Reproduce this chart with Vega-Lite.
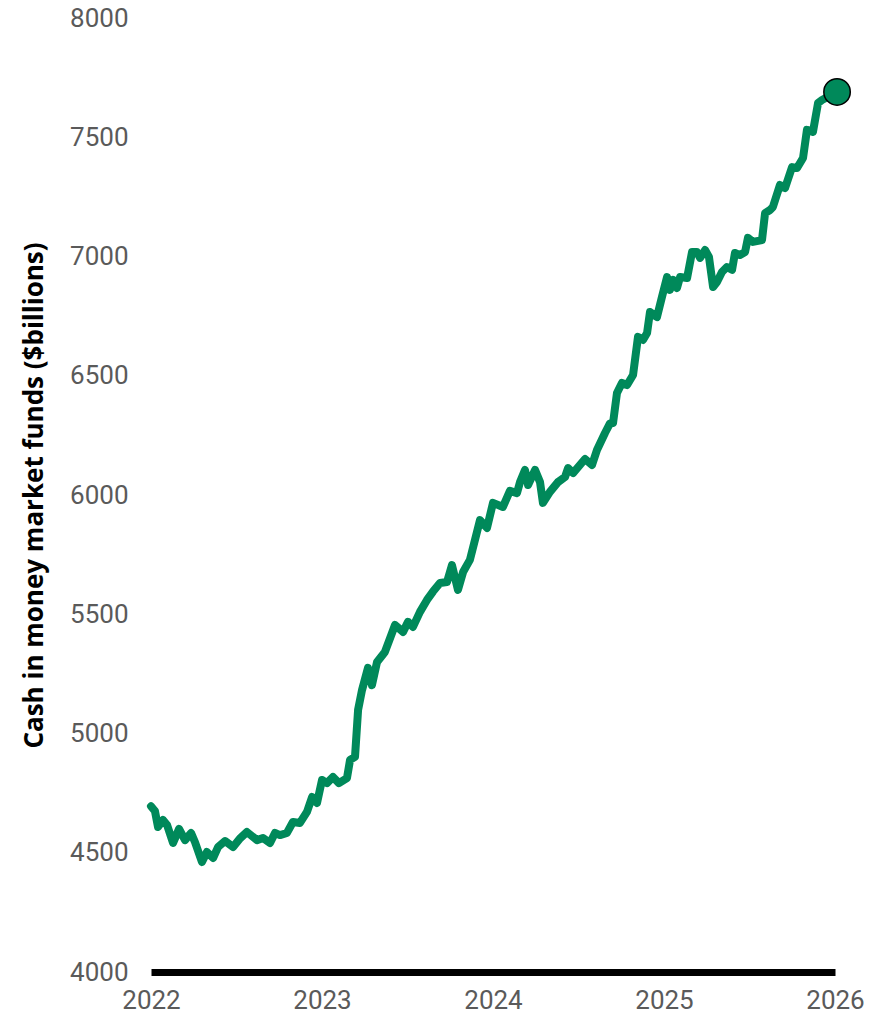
{
  "$schema": "https://vega.github.io/schema/vega-lite/v6.json",
  "autosize": "none",
  "width": 684,
  "height": 954,
  "padding": {"left": 151, "top": 18, "right": 40, "bottom": 45},
  "background": "white",
  "config": {"view": {"stroke": null}, "font": "Roboto"},
  "data": {"values": [
    {"year": 2022.000, "cash": 4695},
    {"year": 2022.023, "cash": 4675},
    {"year": 2022.041, "cash": 4608},
    {"year": 2022.070, "cash": 4637},
    {"year": 2022.094, "cash": 4616},
    {"year": 2022.129, "cash": 4541},
    {"year": 2022.164, "cash": 4600},
    {"year": 2022.199, "cash": 4553},
    {"year": 2022.234, "cash": 4583},
    {"year": 2022.257, "cash": 4545},
    {"year": 2022.298, "cash": 4461},
    {"year": 2022.327, "cash": 4503},
    {"year": 2022.363, "cash": 4478},
    {"year": 2022.392, "cash": 4524},
    {"year": 2022.433, "cash": 4549},
    {"year": 2022.480, "cash": 4524},
    {"year": 2022.520, "cash": 4560},
    {"year": 2022.561, "cash": 4587},
    {"year": 2022.620, "cash": 4553},
    {"year": 2022.655, "cash": 4562},
    {"year": 2022.696, "cash": 4541},
    {"year": 2022.725, "cash": 4583},
    {"year": 2022.754, "cash": 4574},
    {"year": 2022.795, "cash": 4583},
    {"year": 2022.830, "cash": 4629},
    {"year": 2022.871, "cash": 4625},
    {"year": 2022.912, "cash": 4671},
    {"year": 2022.942, "cash": 4734},
    {"year": 2022.971, "cash": 4709},
    {"year": 2023.000, "cash": 4805},
    {"year": 2023.029, "cash": 4792},
    {"year": 2023.064, "cash": 4818},
    {"year": 2023.099, "cash": 4792},
    {"year": 2023.146, "cash": 4813},
    {"year": 2023.164, "cash": 4889},
    {"year": 2023.193, "cash": 4902},
    {"year": 2023.211, "cash": 5099},
    {"year": 2023.234, "cash": 5182},
    {"year": 2023.269, "cash": 5275},
    {"year": 2023.292, "cash": 5203},
    {"year": 2023.322, "cash": 5300},
    {"year": 2023.368, "cash": 5342},
    {"year": 2023.427, "cash": 5455},
    {"year": 2023.474, "cash": 5426},
    {"year": 2023.503, "cash": 5468},
    {"year": 2023.532, "cash": 5447},
    {"year": 2023.573, "cash": 5510},
    {"year": 2023.614, "cash": 5560},
    {"year": 2023.649, "cash": 5595},
    {"year": 2023.690, "cash": 5631},
    {"year": 2023.731, "cash": 5635},
    {"year": 2023.760, "cash": 5706},
    {"year": 2023.795, "cash": 5602},
    {"year": 2023.825, "cash": 5677},
    {"year": 2023.865, "cash": 5728},
    {"year": 2023.924, "cash": 5895},
    {"year": 2023.965, "cash": 5862},
    {"year": 2024.000, "cash": 5967},
    {"year": 2024.058, "cash": 5950},
    {"year": 2024.099, "cash": 6017},
    {"year": 2024.140, "cash": 6008},
    {"year": 2024.158, "cash": 6054},
    {"year": 2024.187, "cash": 6105},
    {"year": 2024.205, "cash": 6042},
    {"year": 2024.246, "cash": 6105},
    {"year": 2024.275, "cash": 6054},
    {"year": 2024.292, "cash": 5967},
    {"year": 2024.333, "cash": 6013},
    {"year": 2024.380, "cash": 6054},
    {"year": 2024.421, "cash": 6075},
    {"year": 2024.439, "cash": 6113},
    {"year": 2024.468, "cash": 6092},
    {"year": 2024.538, "cash": 6151},
    {"year": 2024.579, "cash": 6126},
    {"year": 2024.608, "cash": 6189},
    {"year": 2024.655, "cash": 6260},
    {"year": 2024.684, "cash": 6300},
    {"year": 2024.702, "cash": 6302},
    {"year": 2024.725, "cash": 6428},
    {"year": 2024.754, "cash": 6470},
    {"year": 2024.784, "cash": 6461},
    {"year": 2024.819, "cash": 6503},
    {"year": 2024.848, "cash": 6663},
    {"year": 2024.877, "cash": 6650},
    {"year": 2024.901, "cash": 6679},
    {"year": 2024.918, "cash": 6767},
    {"year": 2024.959, "cash": 6746},
    {"year": 2024.988, "cash": 6830},
    {"year": 2025.018, "cash": 6914},
    {"year": 2025.035, "cash": 6860},
    {"year": 2025.053, "cash": 6902},
    {"year": 2025.076, "cash": 6868},
    {"year": 2025.094, "cash": 6914},
    {"year": 2025.135, "cash": 6910},
    {"year": 2025.164, "cash": 7019},
    {"year": 2025.193, "cash": 7019},
    {"year": 2025.211, "cash": 6994},
    {"year": 2025.240, "cash": 7027},
    {"year": 2025.263, "cash": 6998},
    {"year": 2025.287, "cash": 6872},
    {"year": 2025.310, "cash": 6893},
    {"year": 2025.339, "cash": 6935},
    {"year": 2025.368, "cash": 6956},
    {"year": 2025.398, "cash": 6944},
    {"year": 2025.415, "cash": 7015},
    {"year": 2025.444, "cash": 7006},
    {"year": 2025.474, "cash": 7019},
    {"year": 2025.491, "cash": 7078},
    {"year": 2025.520, "cash": 7061},
    {"year": 2025.573, "cash": 7069},
    {"year": 2025.591, "cash": 7182},
    {"year": 2025.620, "cash": 7195},
    {"year": 2025.637, "cash": 7208},
    {"year": 2025.678, "cash": 7300},
    {"year": 2025.708, "cash": 7287},
    {"year": 2025.749, "cash": 7375},
    {"year": 2025.778, "cash": 7371},
    {"year": 2025.813, "cash": 7413},
    {"year": 2025.836, "cash": 7531},
    {"year": 2025.871, "cash": 7522},
    {"year": 2025.901, "cash": 7644},
    {"year": 2025.924, "cash": 7656},
    {"year": 2026.012, "cash": 7690}
  ]},
  "encoding": {
    "x": {
      "field": "year", "type": "quantitative",
      "scale": {"domain": [2022, 2026], "nice": false, "zero": false},
      "axis": {
        "title": null, "values": [2022, 2023, 2024, 2025, 2026], "format": "d",
        "grid": false, "ticks": false, "domain": true, "domainColor": "black", "domainWidth": 7,
        "labelFont": "Roboto", "labelFontSize": 26, "labelColor": "#5a5a5a", "labelPadding": 15,
        "labelFlush": false
      }
    },
    "y": {
      "field": "cash", "type": "quantitative",
      "scale": {"domain": [4000, 8000], "nice": false, "zero": false},
      "axis": {
        "title": "Cash in money market funds ($billions)",
        "titleFont": "Open Sans", "titleFontSize": 26, "titleFontWeight": "bold", "titleColor": "black",
        "titlePadding": 22,
        "values": [4000, 4500, 5000, 5500, 6000, 6500, 7000, 7500, 8000], "format": "d",
        "grid": false, "ticks": false, "domain": false,
        "labelFont": "Roboto", "labelFontSize": 26, "labelColor": "#5a5a5a", "labelPadding": 23
      }
    }
  },
  "layer": [
    {
      "mark": {"type": "line", "color": "#00895A", "strokeWidth": 8, "strokeJoin": "round", "strokeCap": "round", "clip": false}
    },
    {
      "transform": [{"filter": "datum.year > 2026"}],
      "mark": {"type": "point", "filled": true, "fill": "#00895A", "stroke": "black", "strokeWidth": 1.5, "size": 700, "opacity": 1, "clip": false}
    }
  ]
}
